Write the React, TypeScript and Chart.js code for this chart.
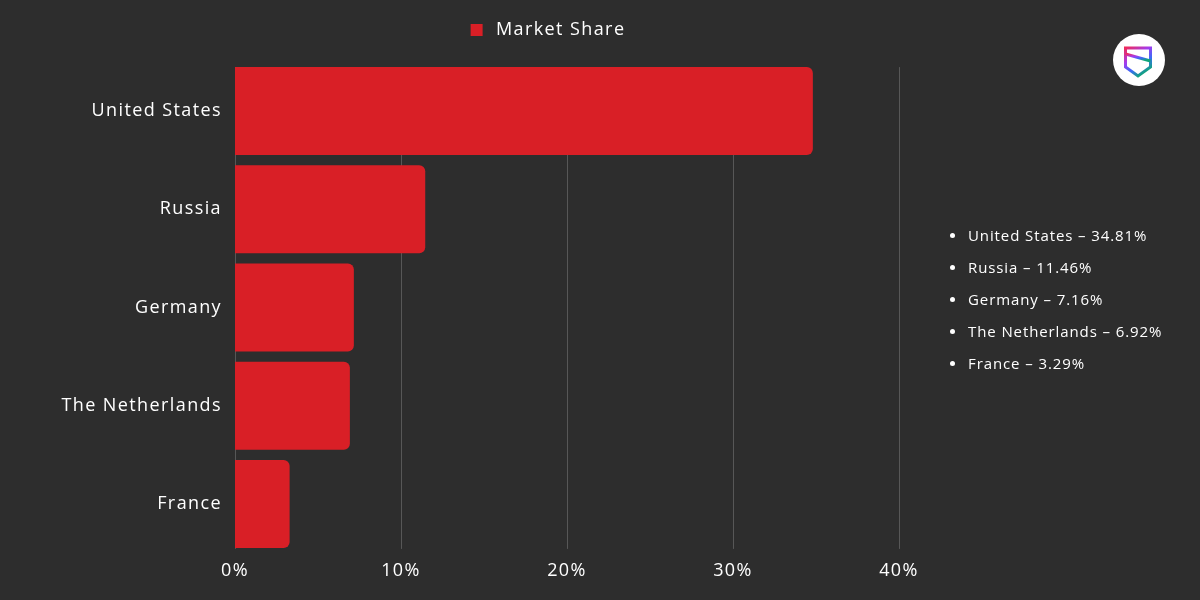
import React, { useEffect, useRef } from "react";
import { Chart, registerables } from "chart.js";

Chart.register(...registerables);

const categories = ["United States", "Russia", "Germany", "The Netherlands", "France"];
const marketShare = [34.81, 11.46, 7.16, 6.92, 3.29];
const seriesLabel = "Market Share";
const xTicks = [0, 10, 20, 30, 40];
const listItems = [
  "United States – 34.81%",
  "Russia – 11.46%",
  "Germany – 7.16%",
  "The Netherlands – 6.92%",
  "France – 3.29%",
];

const BG = "#2d2d2d";
const RED = "#d91f26";
const GRID = "#575757";
const FONT = "'Open Sans', 'DejaVu Sans', sans-serif";
const SPACING = "1.4px";

const stylePlugin = {
  id: "styleHelpers",
  beforeUpdate(chart: any) {
    chart.ctx.letterSpacing = SPACING;
  },
  afterLayout(chart: any) {
    const l = chart.legend;
    if (l) {
      l.left = 0;
      l.right = chart.width;
      l.top -= 13;
      l.bottom -= 13;
    }
  },
  beforeDraw(chart: any) {
    chart.ctx.letterSpacing = SPACING;
  },
  beforeDatasetsDraw(chart: any) {
    const meta = chart.getDatasetMeta(0);
    const bars = meta.data;
    if (!bars.length) return;
    const first = bars[0] as any;
    const last = bars[bars.length - 1] as any;
    const top = first.y - first.height / 2;
    const bottom = last.y + last.height / 2 + 1;
    const xs = chart.scales.x;
    const ctx = chart.ctx;
    ctx.save();
    ctx.strokeStyle = GRID;
    ctx.lineWidth = 1;
    xTicks.forEach((v) => {
      const x = Math.round(xs.getPixelForValue(v)) + 0.5;
      ctx.beginPath();
      ctx.moveTo(x, top);
      ctx.lineTo(x, bottom);
      ctx.stroke();
    });
    ctx.restore();
  },
};

export default function App() {
  const ref = useRef<HTMLCanvasElement | null>(null);

  useEffect(() => {
    document.body.style.margin = "0";
    document.body.style.background = BG;
    const ctx = ref.current!;
    const chart = new Chart(ctx, {
      type: "bar",
      data: {
        labels: categories,
        datasets: [
          {
            label: seriesLabel,
            data: marketShare,
            backgroundColor: RED,
            borderWidth: 0,
            borderRadius: 6,
            barPercentage: 0.896,
            categoryPercentage: 1,
          },
        ],
      },
      plugins: [stylePlugin],
      options: {
        indexAxis: "y",
        animation: false,
        responsive: false,
        devicePixelRatio: 1,
        layout: { padding: { left: 0, right: 197, top: 24, bottom: 0 } },
        plugins: {
          legend: {
            display: true,
            position: "top",
            labels: {
              color: "#ffffff",
              boxWidth: 12,
              boxHeight: 12,
              padding: 10,
              font: { family: FONT, size: 18 },
              generateLabels: (chart: any) =>
                Chart.defaults.plugins.legend.labels
                  .generateLabels(chart)
                  .map((it: any) => ({ ...it, text: "\u2009" + it.text })),
            },
          },
          tooltip: { enabled: false },
        },
        scales: {
          x: {
            min: 0,
            max: 40,
            afterBuildTicks: (scale: any) => {
              scale.ticks = xTicks.map((v) => ({ value: v }));
            },
            afterFit: (scale: any) => {
              scale.height = 47;
            },
            ticks: {
              color: "#ffffff",
              font: { family: FONT, size: 18 },
              padding: 7,
              callback: (v: any) => v + "%",
            },
            grid: { display: false, drawTicks: false },
            border: { display: false },
          },
          y: {
            afterFit: (scale: any) => {
              scale.width = 235;
            },
            ticks: {
              color: "#ffffff",
              font: { family: FONT, size: 18 },
              padding: 13,
            },
            grid: { display: false, drawTicks: false },
            border: { display: false },
          },
        },
      },
    });
    return () => chart.destroy();
  }, []);

  return (
    <div
      style={{
        position: "fixed",
        left: 0,
        top: 0,
        width: 1200,
        height: 600,
        background: BG,
        overflow: "hidden",
        fontFamily: FONT,
      }}
    >
      <canvas
        ref={ref}
        width={1096}
        height={600}
        style={{ position: "absolute", left: 0, top: 0, width: 1096, height: 600 }}
      />
      <div
        style={{
          position: "absolute",
          left: 946,
          top: 219,
          color: "#fff",
          fontSize: 15,
          letterSpacing: "0.9px",
        }}
      >
        {listItems.map((t) => (
          <div key={t} style={{ height: 32, lineHeight: "26px", display: "flex", alignItems: "center" }}>
            <span
              style={{
                display: "inline-block",
                width: 5,
                height: 5,
                borderRadius: "50%",
                background: "#fff",
                marginRight: 13,
                marginLeft: 4,
              }}
            />
            <span>{t}</span>
          </div>
        ))}
      </div>
      <svg width={60} height={60} style={{ position: "absolute", left: 1109, top: 30 }} viewBox="0 0 60 60">
        <defs>
          <linearGradient id="lg" x1="0" y1="0" x2="0.6" y2="1">
            <stop offset="0" stopColor="#ee2a5c" />
            <stop offset="0.4" stopColor="#a23cf0" />
            <stop offset="0.7" stopColor="#3a6af6" />
            <stop offset="1" stopColor="#10a57a" />
          </linearGradient>
        </defs>
        <circle cx={30} cy={30} r={26} fill="#ffffff" />
        <path
          d="M16.5 18 L41.5 18 L41.5 37 L29 46 L16.5 37 Z"
          fill="none"
          stroke="url(#lg)"
          strokeWidth={3}
          strokeLinejoin="miter"
        />
        <path d="M16.5 24 L41.5 31" fill="none" stroke="url(#lg)" strokeWidth={3} />
      </svg>
    </div>
  );
}
